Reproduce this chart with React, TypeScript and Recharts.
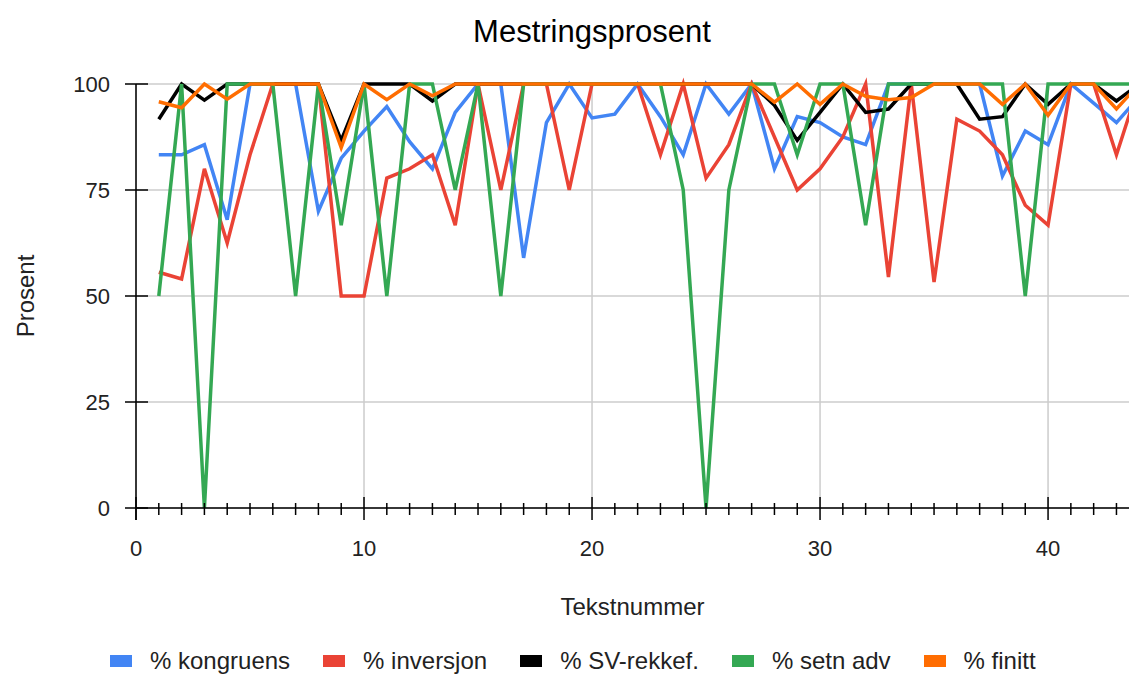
import { LineChart, Line, XAxis, YAxis, CartesianGrid, Legend } from 'recharts'

// tekstnummer 1..44 (siste punkt ligger utenfor bildet til høyre)
const tekstnummer = [
  1, 2, 3, 4, 5, 6, 7, 8, 9, 10, 11, 12, 13, 14, 15, 16, 17, 18, 19, 20, 21, 22,
  23, 24, 25, 26, 27, 28, 29, 30, 31, 32, 33, 34, 35, 36, 37, 38, 39, 40, 41, 42, 43, 44,
]

const kongruens = [
  83.3, 83.3, 85.7, 68, 100, 100, 100, 70, 82.5, 88.9, 94.7, 86.4, 80, 93.3, 100, 100, 59, 90.9, 100, 92, 92.9, 100,
  92.3, 83.3, 100, 92.9, 100, 80, 92.3, 90.9, 87.5, 85.7, 100, 100, 100, 100, 100, 78.3, 88.9, 85.7, 100, 95.5, 90.9, 97,
]
const inversjon = [
  55.6, 54, 80, 62.5, 83.3, 100, 100, 100, 50, 50, 77.8, 80, 83.3, 66.7, 100, 75, 100, 100, 75, 100, 100, 100,
  83.3, 100, 77.8, 85.7, 100, 87.5, 75, 80, 87.5, 100, 54.5, 100, 53.3, 91.7, 88.9, 83.3, 71.4, 66.7, 100, 100, 83.3, 100,
]
const svRekkef = [
  91.7, 100, 96.2, 100, 100, 100, 100, 100, 86.7, 100, 100, 100, 96, 100, 100, 100, 100, 100, 100, 100, 100, 100,
  100, 100, 100, 100, 100, 95, 86.7, 93.3, 100, 93.3, 94.1, 100, 100, 100, 91.7, 92.3, 100, 95.2, 100, 100, 96, 100,
]
const setnAdv = [
  50, 100, 0, 100, 100, 100, 50, 100, 66.7, 100, 50, 100, 100, 75, 100, 50, 100, 100, 100, 100, 100, 100,
  100, 75, 0, 75, 100, 100, 83.3, 100, 100, 66.7, 100, 100, 100, 100, 100, 100, 50, 100, 100, 100, 100, 100,
]
const finitt = [
  95.8, 94.4, 100, 96.4, 100, 100, 100, 100, 85, 100, 96.3, 100, 97.2, 100, 100, 100, 100, 100, 100, 100, 100, 100,
  100, 100, 100, 100, 100, 95.7, 100, 95.2, 100, 97.1, 96.3, 96.8, 100, 100, 100, 95.2, 100, 92.6, 100, 100, 94.1, 100,
]

const xTicks = [
  0, 1, 2, 3, 4, 5, 6, 7, 8, 9, 10, 11, 12, 13, 14, 15, 16, 17, 18, 19, 20, 21,
  22, 23, 24, 25, 26, 27, 28, 29, 30, 31, 32, 33, 34, 35, 36, 37, 38, 39, 40, 41, 42, 43,
]
const xLabels = [0, 10, 20, 30, 40]
const yTicks = [0, 25, 50, 75, 100]

const series = [
  { key: 'kongruens', name: '% kongruens', color: '#4285F4', values: kongruens },
  { key: 'inversjon', name: '% inversjon', color: '#EA4335', values: inversjon },
  { key: 'sv', name: '% SV-rekkef.', color: '#000000', values: svRekkef },
  { key: 'setn', name: '% setn adv', color: '#34A853', values: setnAdv },
  { key: 'finitt', name: '% finitt', color: '#FF6D01', values: finitt },
]

const data = tekstnummer.map((x, i) => {
  const row: Record<string, number> = { x }
  series.forEach((s) => { row[s.key] = s.values[i] })
  return row
})

const FONT = '"Liberation Sans", Arial, sans-serif'

// x-ticks: små streker for hvert tall, lengre og med tekst på tiere
function XTick(props: any) {
  const { x, y, payload } = props
  const major = xLabels.includes(payload.value)
  return (
    <g>
      <line x1={x} x2={x} y1={major ? y - 11 : y - 5} y2={major ? y + 12 : y + 7} stroke="#000" strokeWidth={1.5} />
      {major && (
        <text x={x} y={y + 48} textAnchor="middle" fontSize={22} fontFamily={FONT} fill="#222">
          {payload.value}
        </text>
      )}
    </g>
  )
}

function YTick(props: any) {
  const { x, y, payload } = props
  return (
    <g>
      <line x1={x - 11} x2={x + 12} y1={y} y2={y} stroke="#000" strokeWidth={1.5} />
      {payload.value === 0 && <line x1={x} x2={x} y1={y} y2={y + 12} stroke="#000" strokeWidth={1.5} />}
      <text x={x - 26} y={y + 8} textAnchor="end" fontSize={22} fontFamily={FONT} fill="#222">
        {payload.value}
      </text>
    </g>
  )
}

function LegendBox() {
  return (
    <div style={{ display: 'flex', alignItems: 'center', fontFamily: FONT, fontSize: 24, color: '#222', paddingLeft: 110 }}>
      {series.map((s) => (
        <div key={s.key} style={{ display: 'flex', alignItems: 'center', marginRight: 33 }}>
          <span style={{ display: 'inline-block', width: 22, height: 12, background: s.color, marginRight: 18 }} />
          <span>{s.name}</span>
        </div>
      ))}
    </div>
  )
}

export default function App() {
  return (
    <div style={{ position: 'absolute', left: 0, top: 0, width: 1129, height: 675, background: '#fff', overflow: 'hidden' }}>
      <div
        style={{
          position: 'absolute', left: 0, top: 16, width: 1184, textAlign: 'center',
          fontFamily: FONT, fontSize: 31, lineHeight: '31px', color: '#000',
        }}
      >
        Mestringsprosent
      </div>
      <LineChart width={1129} height={675} data={data} margin={{ top: 84, right: 0, left: 0, bottom: 107 }}>
        <CartesianGrid
          stroke="#cccccc"
          strokeWidth={1.5}
          verticalValues={xLabels}
          horizontalValues={yTicks}
        />
        <XAxis
          dataKey="x"
          type="number"
          domain={[0, 43.55]}
          allowDataOverflow
          ticks={xTicks}
          interval={0}
          height={60}
          tickSize={0}
          tickMargin={0}
          tickLine={false}
          axisLine={{ stroke: '#000', strokeWidth: 1.5 }}
          tick={<XTick />}
          label={{ value: 'Tekstnummer', position: 'bottom', offset: 30, fontSize: 24, fontFamily: FONT, fill: '#222' }}
        />
        <YAxis
          type="number"
          domain={[0, 100]}
          ticks={yTicks}
          width={136}
          tickSize={0}
          tickMargin={0}
          tickLine={false}
          axisLine={{ stroke: '#000', strokeWidth: 1.5 }}
          tick={<YTick />}
          label={{
            value: 'Prosent', angle: -90, position: 'insideLeft', offset: 25,
            fontSize: 24, fontFamily: FONT, fill: '#222', style: { textAnchor: 'middle' },
          }}
        />
        <Legend
          layout="horizontal"
          verticalAlign="middle"
          align="center"
          wrapperStyle={{ top: 647, left: 0, width: 1129 }}
          content={<LegendBox />}
        />
        {series.map((s) => (
          <Line
            key={s.key}
            type="linear"
            dataKey={s.key}
            name={s.name}
            stroke={s.color}
            strokeWidth={3.5}
            dot={false}
            activeDot={false}
            isAnimationActive={false}
          />
        ))}
      </LineChart>
    </div>
  )
}
